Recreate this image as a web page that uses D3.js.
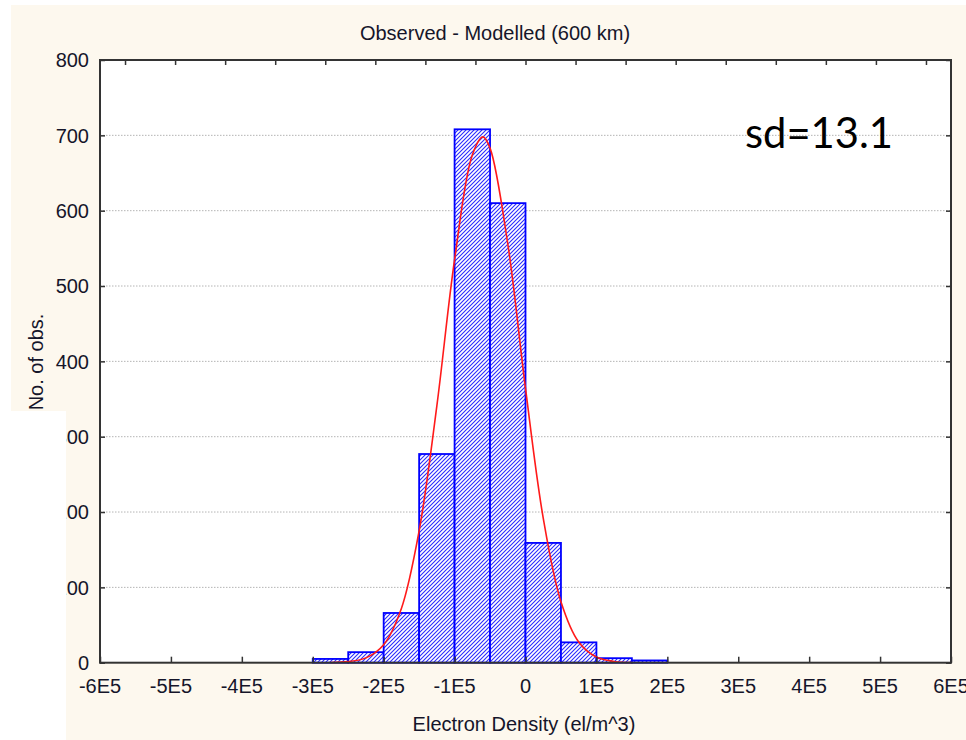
<!DOCTYPE html>
<html>
<head>
<meta charset="utf-8">
<script src="https://cdn.jsdelivr.net/npm/d3@7"></script>
<style>
  html, body { margin: 0; padding: 0; background: #ffffff; }
  svg { display: block; }
</style>
</head>
<body>
<svg id="chart" width="966" height="740"></svg>
<script>
// Histogram of observed minus modelled electron density at 600 km
const binLower = [-300000, -250000, -200000, -150000, -100000, -50000, 0, 50000, 100000, 150000];
const binWidth = 50000;
const counts = [5, 14, 66, 277, 708, 610, 159, 27, 6, 3];

// Fitted normal curve, expected counts per bin
const fitX = [-275000, -250000, -225000, -200000, -175000, -150000, -125000, -100000, -75000,
              -60000, -50000, -25000, 0, 25000, 50000, 75000, 100000, 125000, 150000];
const fitY = [0.2, 1.4, 6.4, 23.9, 72, 175, 341, 535, 674,
              698, 683, 556, 364, 192, 81, 27.6, 7.5, 1.7, 0.3];

const xTicks = [-600000, -500000, -400000, -300000, -200000, -100000, 0, 100000, 200000, 300000, 400000, 500000, 600000];
const xTickLabels = ["-6E5", "-5E5", "-4E5", "-3E5", "-2E5", "-1E5", "0", "1E5", "2E5", "3E5", "4E5", "5E5", "6E5"];
const yTicks = [0, 100, 200, 300, 400, 500, 600, 700, 800];
const topTicks = [0.5, 1.5, 2.5, 3.5, 4.5, 5.5, 6.5, 7.5, 8.5, 9.5, 10.5, 11.5, 12.5, 13.5, 14.5, 15.5, 16.5];

const titleText = "Observed - Modelled (600 km)";
const xTitle = "Electron Density (el/m^3)";
const yTitle = "No. of obs.";
const noteText = "sd=13.1";

const svg = d3.select("#chart");
const font = "'Liberation Sans', Arial, sans-serif";
const ink = "#15152a";

const plot = { left: 100, right: 951, top: 60, bottom: 662.7 };

const x = d3.scaleLinear().domain([-600000, 600000]).range([plot.left, plot.right]);
const y = d3.scaleLinear().domain([0, 800]).range([plot.bottom, plot.top]);
const xTop = d3.scaleLinear().domain([0, 17]).range([plot.left, plot.right]);

// page background
svg.append("rect").attr("x", 11).attr("y", 5).attr("width", 955).attr("height", 735).attr("fill", "#fdf8ee");

// hatch pattern for bars
const defs = svg.append("defs");
const pat = defs.append("pattern")
  .attr("id", "hatch").attr("patternUnits", "userSpaceOnUse")
  .attr("width", 4).attr("height", 4);
pat.append("rect").attr("width", 4).attr("height", 4).attr("fill", "#ffffff");
pat.append("path")
  .attr("d", "M-1,1 l2,-2 M0,4 l4,-4 M3,5 l2,-2")
  .attr("stroke", "#2a2aff").attr("stroke-width", 1.1);

// plot area
svg.append("rect")
  .attr("x", plot.left).attr("y", plot.top)
  .attr("width", plot.right - plot.left).attr("height", plot.bottom - plot.top)
  .attr("fill", "#ffffff");

// dotted gridlines
svg.append("g").selectAll("line")
  .data(yTicks.filter(d => d > 0 && d < 800))
  .join("line")
  .attr("x1", plot.left).attr("x2", plot.right)
  .attr("y1", d => y(d)).attr("y2", d => y(d))
  .attr("stroke", "#b4b4b4").attr("stroke-width", 1)
  .attr("stroke-dasharray", "1.5,1.5");

// bars
svg.append("g").selectAll("rect")
  .data(counts.map((c, i) => ({ lo: binLower[i], c })))
  .join("rect")
  .attr("x", d => x(d.lo))
  .attr("y", d => y(d.c))
  .attr("width", d => x(d.lo + binWidth) - x(d.lo))
  .attr("height", d => y(0) - y(d.c))
  .attr("fill", "url(#hatch)")
  .attr("stroke", "#0000ff").attr("stroke-width", 1.8);

// fitted normal curve
const line = d3.line().x((d, i) => x(fitX[i])).y(d => y(d)).curve(d3.curveCatmullRom);
svg.append("path")
  .attr("d", line(fitY))
  .attr("fill", "none").attr("stroke", "#ff1a1a").attr("stroke-width", 1.6);

// axes (ticks point inward)
const axisColor = "#333333";
function styleAxis(g) {
  g.select(".domain").remove();
  g.selectAll(".tick line").attr("stroke", axisColor).attr("stroke-width", 1.5);
  g.selectAll(".tick text").remove();
}
svg.append("g").attr("transform", `translate(0,${plot.bottom})`)
  .call(d3.axisTop(x).tickValues(xTicks).tickSize(6)).call(styleAxis);
svg.append("g").attr("transform", `translate(0,${plot.top})`)
  .call(d3.axisBottom(xTop).tickValues(topTicks).tickSize(5)).call(styleAxis);
svg.append("g").attr("transform", `translate(${plot.left},0)`)
  .call(d3.axisRight(y).tickValues(yTicks).tickSize(5)).call(styleAxis);
svg.append("g").attr("transform", `translate(${plot.right},0)`)
  .call(d3.axisLeft(y).tickValues(yTicks).tickSize(5)).call(styleAxis);

// frame
svg.append("rect")
  .attr("x", plot.left).attr("y", plot.top)
  .attr("width", plot.right - plot.left).attr("height", plot.bottom - plot.top)
  .attr("fill", "none").attr("stroke", axisColor).attr("stroke-width", 2);

// tick labels
svg.append("g").selectAll("text")
  .data(xTicks)
  .join("text")
  .attr("x", d => x(d)).attr("y", 693)
  .attr("text-anchor", "middle")
  .attr("font-family", font).attr("font-size", 20).attr("fill", ink)
  .text((d, i) => xTickLabels[i]);

svg.append("g").selectAll("text")
  .data(yTicks)
  .join("text")
  .attr("x", 89).attr("y", d => y(d)).attr("dy", "0.36em")
  .attr("text-anchor", "end")
  .attr("font-family", font).attr("font-size", 20).attr("fill", ink)
  .text(d => d);

// titles
svg.append("text")
  .attr("x", 495).attr("y", 40).attr("text-anchor", "middle")
  .attr("font-family", font).attr("font-size", 20).attr("fill", ink)
  .text(titleText);

svg.append("text")
  .attr("x", 524).attr("y", 731).attr("text-anchor", "middle")
  .attr("font-family", font).attr("font-size", 20).attr("fill", ink)
  .text(xTitle);

svg.append("text")
  .attr("transform", "translate(43,362) rotate(-90)")
  .attr("text-anchor", "middle")
  .attr("font-family", font).attr("font-size", 20).attr("fill", ink)
  .text(yTitle);

// annotation
svg.append("text")
  .attr("x", 745).attr("y", 148)
  .attr("font-family", "Lato, 'Open Sans', sans-serif").attr("font-size", 42).attr("fill", "#000000")
  .attr("textLength", 148).attr("lengthAdjust", "spacingAndGlyphs")
  .text(noteText);

// white panel over lower-left margin
svg.append("rect").attr("x", 0).attr("y", 411).attr("width", 66).attr("height", 329).attr("fill", "#ffffff");
</script>
</body>
</html>
